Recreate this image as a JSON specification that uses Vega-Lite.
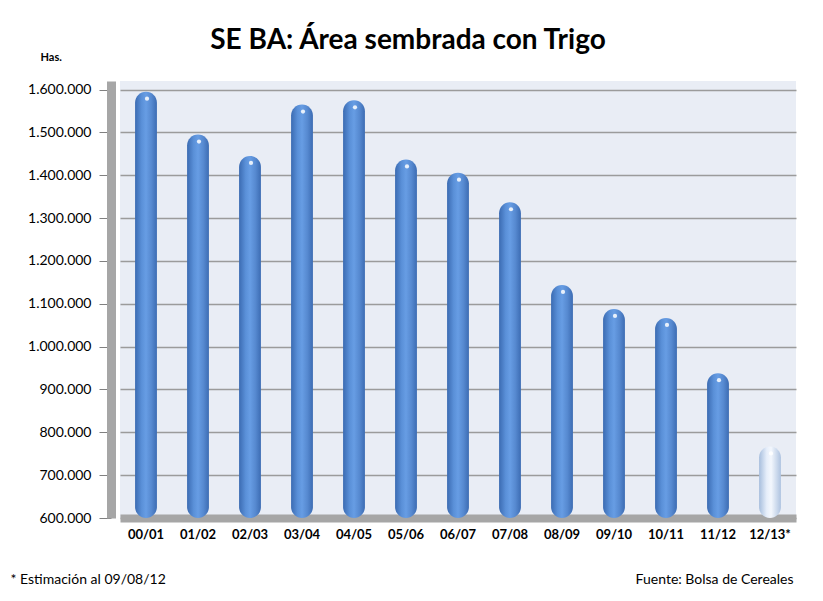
{
  "$schema": "https://vega.github.io/schema/vega-lite/v6.json",
  "autosize": "none",
  "width": 676,
  "height": 437,
  "padding": {"left": 120, "top": 81, "right": 27, "bottom": 83},
  "background": "white",
  "config": {
    "font": "Lato",
    "view": {"fill": "#e9edf5", "stroke": null}
  },
  "title": {
    "text": "SE BA: Área sembrada con Trigo",
    "font": "Lato",
    "fontSize": 28,
    "fontWeight": "bold",
    "color": "#000000",
    "anchor": "middle",
    "dx": -50,
    "dy": 24,
    "offset": 20
  },
  "data": {
    "values": [
      {"campana": "00/01", "hectareas": 1595000, "tipo": "real"},
      {"campana": "01/02", "hectareas": 1495000, "tipo": "real"},
      {"campana": "02/03", "hectareas": 1445000, "tipo": "real"},
      {"campana": "03/04", "hectareas": 1565000, "tipo": "real"},
      {"campana": "04/05", "hectareas": 1575000, "tipo": "real"},
      {"campana": "05/06", "hectareas": 1437000, "tipo": "real"},
      {"campana": "06/07", "hectareas": 1406000, "tipo": "real"},
      {"campana": "07/08", "hectareas": 1337000, "tipo": "real"},
      {"campana": "08/09", "hectareas": 1144000, "tipo": "real"},
      {"campana": "09/10", "hectareas": 1088000, "tipo": "real"},
      {"campana": "10/11", "hectareas": 1067000, "tipo": "real"},
      {"campana": "11/12", "hectareas": 938000, "tipo": "real"},
      {"campana": "12/13", "hectareas": 767000, "tipo": "estimado"}
    ]
  },
  "encoding": {
    "x": {
      "field": "campana",
      "type": "ordinal",
      "sort": null,
      "scale": {"paddingInner": 0.58, "paddingOuter": 0.29},
      "axis": {
        "title": "* Estimación  al 09/08/12",
        "titleAnchor": "start",
        "titleAlign": "left",
        "titleBaseline": "alphabetic",
        "titleX": -110,
        "titleY": 65,
        "titleFont": "Lato",
        "titleFontSize": 14,
        "titleFontWeight": "normal",
        "titleColor": "#000000",
        "labelAngle": 0,
        "labelFont": "Lato",
        "labelFontSize": 13,
        "labelFontWeight": "bold",
        "labelColor": "#000000",
        "labelPadding": 10,
        "labelExpr": "datum.value == '12/13' ? '12/13*' : datum.value",
        "ticks": false,
        "domainColor": "#a6a6a6",
        "domainWidth": 8
      }
    }
  },
  "layer": [
    {
      "encoding": {
        "y": {
          "field": "hectareas",
          "type": "quantitative",
          "scale": {"domain": [600000, 1620000], "zero": false, "nice": false},
          "axis": {
            "values": [600000, 700000, 800000, 900000, 1000000, 1100000, 1200000, 1300000, 1400000, 1500000, 1600000],
            "labelExpr": "replace(format(datum.value, ',d'), /,/g, '.')",
            "labelFont": "Lato",
            "labelFontSize": 14,
            "labelColor": "#000000",
            "labelPadding": 8,
            "offset": 9,
            "domainColor": "#a6a6a6",
            "domainWidth": 9,
            "tickSize": 12,
            "tickColor": "#808080",
            "gridColor": "#9b9b9b",
            "gridWidth": 1.5,
            "title": "Has.",
            "titleAngle": 0,
            "titleAlign": "left",
            "titleBaseline": "alphabetic",
            "titleX": -71,
            "titleY": -21,
            "titleFont": "Lato",
            "titleFontSize": 11,
            "titleFontWeight": "bold",
            "titleColor": "#000000"
          }
        }
      },
      "layer": [
        {
          "transform": [{"filter": "datum.tipo == 'real'"}],
          "mark": {
            "type": "bar",
            "cornerRadius": 11,
            "color": {
              "gradient": "linear",
              "x1": 0, "x2": 1, "y1": 0, "y2": 0,
              "stops": [
                {"offset": 0, "color": "#3b6bb2"},
                {"offset": 0.3, "color": "#5a90d8"},
                {"offset": 0.5, "color": "#679de4"},
                {"offset": 0.75, "color": "#5689d0"},
                {"offset": 1, "color": "#3c6cb3"}
              ]
            }
          },
          "encoding": {"y2": {"datum": 600000}}
        },
        {
          "transform": [{"filter": "datum.tipo == 'estimado'"}],
          "mark": {
            "type": "bar",
            "cornerRadius": 11,
            "color": {
              "gradient": "linear",
              "x1": 0, "x2": 1, "y1": 0, "y2": 0,
              "stops": [
                {"offset": 0, "color": "#a7bedd"},
                {"offset": 0.35, "color": "#e6eefa"},
                {"offset": 0.55, "color": "#f3f7fd"},
                {"offset": 1, "color": "#aec3e0"}
              ]
            }
          },
          "encoding": {"y2": {"datum": 600000}}
        }
      ]
    },
    {
      "mark": {"type": "point", "shape": "circle", "filled": true, "color": "#ffffff", "size": 18, "opacity": 0.85, "yOffset": 7, "xOffset": 1},
      "encoding": {
        "y": {
          "field": "hectareas",
          "type": "quantitative",
          "scale": {"domain": [600000, 1620000], "zero": false, "nice": false},
          "axis": {
            "orient": "right",
            "labels": false,
            "ticks": false,
            "domain": false,
            "grid": false,
            "title": "Fuente: Bolsa de Cereales",
            "titleAngle": 0,
            "titleAlign": "right",
            "titleBaseline": "alphabetic",
            "titleX": -3,
            "titleY": 502,
            "titleFont": "Lato",
            "titleFontSize": 14,
            "titleFontWeight": "normal",
            "titleColor": "#000000"
          }
        }
      }
    }
  ],
  "resolve": {"scale": {"y": "independent"}, "axis": {"y": "independent"}}
}
